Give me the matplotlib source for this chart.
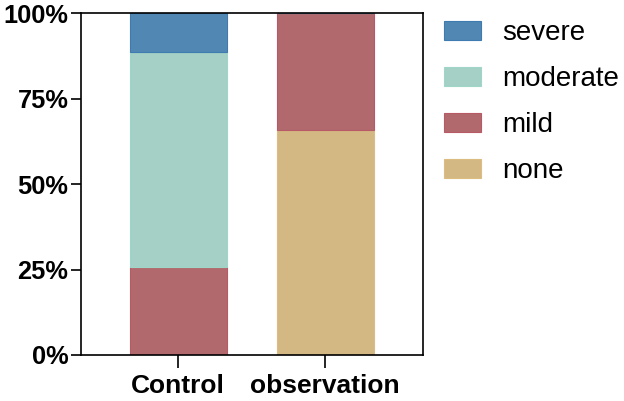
import matplotlib
matplotlib.use("Agg")
import matplotlib.pyplot as plt
import numpy as np
from matplotlib.patches import Patch

plt.rcParams['font.family'] = ['Liberation Sans', 'DejaVu Sans']

groups = ["Control", "observation"]
none_pct = [0.0, 65.7]
mild_pct = [25.7, 34.3]
moderate_pct = [62.9, 0.0]
severe_pct = [11.4, 0.0]

colors = {"severe": "#5088b3", "moderate": "#a4d0c6", "mild": "#b1696e", "none": "#d4b884"}
edges = {"severe": "#3f7bb0", "moderate": "#9fd6c8", "mild": "#b85a66", "none": "#dcbc80"}

fig = plt.figure(figsize=(6.24, 4.01), dpi=100)
ax = fig.add_axes([81/624, 46/401, 342/624, 342/401])

x = np.arange(len(groups))
w = 0.658
bottom = np.zeros(len(groups))
for name, vals in [("none", none_pct), ("mild", mild_pct), ("moderate", moderate_pct), ("severe", severe_pct)]:
    vals = np.array(vals)
    ax.bar(x, vals, w, bottom=bottom, color=colors[name], edgecolor=edges[name], linewidth=0.8)
    bottom += vals

ax.set_xlim(-0.662, 1.665)
ax.set_ylim(0, 100)
ax.set_yticks([0, 25, 50, 75, 100])
ax.set_yticklabels(["0%", "25%", "50%", "75%", "100%"], fontsize=18.3, fontweight='bold')
ax.set_xticks(x)
ax.set_xticklabels(groups, fontsize=19, fontweight='bold')
for s in ax.spines.values():
    s.set_linewidth(1.2)
ax.tick_params(axis='y', length=7.5, width=1.2, pad=1.5)
ax.tick_params(axis='x', length=9.5, width=1.2, pad=4)

handles = [Patch(facecolor=colors[n], edgecolor=edges[n], linewidth=0.8) for n in ["severe", "moderate", "mild", "none"]]
ax.legend(handles, ["severe", "moderate", "mild", "none"], loc='upper left',
          bbox_to_anchor=(444/624, 1 - 20/401), bbox_transform=fig.transFigure,
          frameon=False, fontsize=20, handlelength=1.33, handleheight=0.65,
          handletextpad=0.75, labelspacing=0.72, borderaxespad=0, borderpad=0)

fig.savefig("out.png", dpi=100)
